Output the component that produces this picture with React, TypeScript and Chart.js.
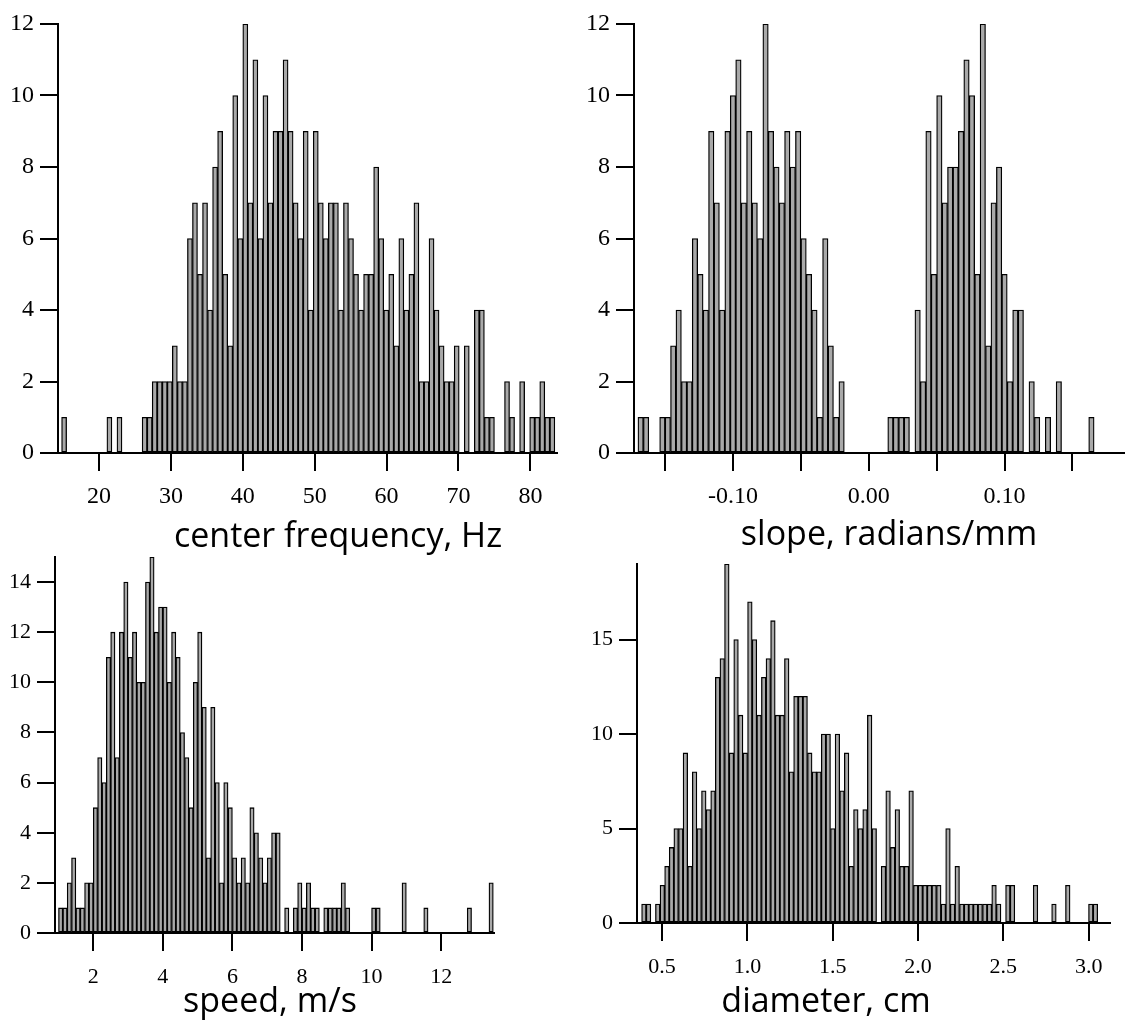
import React, { useEffect, useRef } from "react";
import { Chart, registerables } from "chart.js";

Chart.register(...registerables);

// ---------------- data ----------------
// center frequency histogram (Hz)
const freqStart = 14.8;
const freqWidth = 0.7;
const freqCounts = [
  1, 0, 0, 0, 0, 0, 0, 0, 0, 1,
  0, 1, 0, 0, 0, 0, 1, 1, 2, 2,
  2, 2, 3, 2, 2, 6, 7, 5, 7, 4,
  8, 9, 5, 3, 10, 6, 12, 7, 11, 6,
  10, 7, 9, 9, 11, 9, 7, 6, 9, 4,
  9, 7, 6, 7, 7, 4, 7, 6, 5, 4,
  5, 5, 8, 6, 4, 5, 3, 6, 4, 5,
  7, 2, 2, 6, 4, 3, 2, 2, 3, 0,
  3, 0, 4, 4, 1, 1, 0, 0, 2, 1,
  0, 2, 0, 1, 1, 2, 1, 1,
];

// slope histogram (radians/mm)
const slopeStart = -0.17;
const slopeWidth = 0.004;
const slopeCounts = [
  1, 1, 0, 0, 1, 1, 3, 4, 2, 2,
  6, 5, 4, 9, 7, 4, 9, 10, 11, 7,
  9, 7, 6, 12, 9, 8, 7, 9, 8, 9,
  6, 5, 4, 1, 6, 3, 1, 2, 0, 0,
  0, 0, 0, 0, 0, 0, 1, 1, 1, 1,
  0, 4, 2, 9, 5, 10, 7, 8, 8, 9,
  11, 10, 5, 12, 3, 7, 8, 5, 2, 4,
  4, 0, 2, 1, 0, 1, 0, 2, 0, 0,
  0, 0, 0, 1,
];

// speed histogram (m/s)
const speedStart = 1.0;
const speedWidth = 0.125;
const speedCounts = [
  1, 1, 2, 3, 1, 1, 2, 2, 5, 7,
  6, 11, 12, 7, 12, 14, 11, 12, 10, 10,
  14, 15, 12, 13, 13, 10, 12, 11, 8, 7,
  5, 10, 12, 9, 3, 9, 6, 2, 6, 5,
  3, 2, 3, 2, 5, 4, 3, 2, 3, 4,
  4, 0, 1, 0, 1, 2, 1, 2, 1, 1,
  0, 1, 1, 1, 1, 2, 1, 0, 0, 0,
  0, 0, 1, 1, 0, 0, 0, 0, 0, 2,
  0, 0, 0, 0, 1, 0, 0, 0, 0, 0,
  0, 0, 0, 0, 1, 0, 0, 0, 0, 2,
];

// diameter histogram (cm)
const diamStart = 0.38;
const diamWidth = 0.027;
const diamCounts = [
  1, 1, 0, 1, 2, 3, 4, 5, 5, 9,
  3, 8, 5, 7, 6, 7, 13, 14, 19, 9,
  15, 11, 9, 17, 15, 11, 13, 14, 16, 11,
  11, 14, 8, 12, 12, 12, 9, 8, 8, 10,
  10, 5, 10, 7, 9, 3, 6, 5, 6, 11,
  5, 0, 3, 7, 4, 6, 3, 3, 7, 2,
  2, 2, 2, 2, 2, 1, 5, 1, 3, 1,
  1, 1, 1, 1, 1, 1, 2, 1, 0, 2,
  2, 0, 0, 0, 0, 2, 0, 0, 0, 1,
  0, 0, 2, 0, 0, 0, 0, 1, 1, 0,
];

const axisTitles = ["center frequency, Hz", "slope, radians/mm", "speed, m/s", "diameter, cm"];

// axis ranges and tick steps
const freqAxis = { min: 14.3, max: 83.7, step: 10, yMax: 12, yStep: 2 };
const slopeAxis = { min: -0.1729, max: 0.188, step: 0.05, yMax: 12, yStep: 2 };
const speedAxis = { min: 0.9, max: 13.52, step: 2, yMax: 15, yStep: 2 };
const diamAxis = { min: 0.353, max: 3.125, step: 0.5, yMax: 19, yStep: 5 };

// ---------------- helpers ----------------
function toPoints(start: number, width: number, counts: number[]) {
  return counts.map((c, i) => ({ x: start + width * (i + 0.5), y: c === 0 ? null : c }));
}

const titlePlugin = {
  id: "axisTitle",
  afterDraw(chart: any, _args: any, opts: any) {
    const ctx = chart.ctx;
    ctx.save();
    ctx.font = '34px "Open Sans"';
    ctx.fillStyle = "#000";
    ctx.textAlign = "center";
    ctx.textBaseline = "alphabetic";
    ctx.fillText(opts.text, opts.x, opts.y);
    ctx.restore();
  },
};

type PanelProps = {
  left: number;
  top: number;
  width: number;
  height: number;
  yWidth: number;
  xHeight: number;
  pad: { top: number; right: number; bottom: number };
  points: { x: number; y: number | null }[];
  axis: { min: number; max: number; step: number; yMax: number; yStep: number };
  fmt: (v: number) => string;
  title: string;
  titleX: number;
  titleY: number;
  fontSize: number;
  xPad: number;
};

function Panel(p: PanelProps) {
  const ref = useRef<HTMLCanvasElement | null>(null);
  useEffect(() => {
    if (!ref.current) return;
    const tickFont = { family: "Liberation Serif", size: p.fontSize };
    const chart = new Chart(ref.current, {
      type: "bar",
      data: {
        datasets: [
          {
            data: p.points as any,
            backgroundColor: "#a9a9a9",
            borderColor: "#000",
            borderWidth: 1.3,
            borderSkipped: false,
            categoryPercentage: 1,
            barPercentage: 1,
          },
        ],
      },
      options: {
        animation: false,
        responsive: false,
        maintainAspectRatio: false,
        layout: { padding: { left: 0, top: p.pad.top, right: p.pad.right, bottom: p.pad.bottom } },
        plugins: {
          legend: { display: false },
          tooltip: { enabled: false },
          axisTitle: { text: p.title, x: p.titleX, y: p.titleY },
        } as any,
        scales: {
          x: {
            type: "linear",
            min: p.axis.min,
            max: p.axis.max,
            offset: false,
            grid: {
              display: true,
              offset: false,
              drawOnChartArea: false,
              drawTicks: true,
              tickLength: 18,
              color: "#000",
              lineWidth: 2,
            },
            border: { display: true, color: "#000", width: 2 },
            ticks: {
              stepSize: p.axis.step,
              includeBounds: false,
              autoSkip: false,
              maxRotation: 0,
              minRotation: 0,
              padding: p.xPad,
              color: "#000",
              font: tickFont,
              callback: (v: any) => p.fmt(Number(v)),
            },
            afterFit: (s: any) => {
              s.height = p.xHeight;
            },
          },
          y: {
            type: "linear",
            min: 0,
            max: p.axis.yMax,
            grid: {
              display: true,
              drawOnChartArea: false,
              drawTicks: true,
              tickLength: 18,
              color: "#000",
              lineWidth: 2,
            },
            border: { display: true, color: "#000", width: 2 },
            ticks: {
              stepSize: p.axis.yStep,
              includeBounds: false,
              padding: 6,
              color: "#000",
              font: tickFont,
              callback: (v: any) => String(Math.round(Number(v))),
            },
            afterFit: (s: any) => {
              s.width = p.yWidth;
            },
          },
        },
      } as any,
      plugins: [titlePlugin as any],
    });
    return () => chart.destroy();
  }, []);
  return (
    <canvas
      ref={ref}
      width={p.width}
      height={p.height}
      style={{ position: "absolute", left: p.left, top: p.top, width: p.width, height: p.height }}
    />
  );
}

const intFmt = (v: number) => String(Math.round(v));
const slopeFmt = (v: number) => {
  const r = Math.round(v * 100);
  if (r % 10 !== 0) return "";
  return (r / 100).toFixed(2);
};
const diamFmt = (v: number) => (Math.round(v * 10) / 10).toFixed(1);

export default function App() {
  return (
    <div style={{ position: "absolute", left: 0, top: 0, width: 1126, height: 1022, background: "#fff", overflow: "hidden" }}>
      <Panel
        left={0}
        top={0}
        width={570}
        height={560}
        yWidth={58}
        xHeight={56}
        pad={{ top: 24, right: 13, bottom: 51 }}
        points={toPoints(freqStart, freqWidth, freqCounts)}
        axis={freqAxis}
        fmt={intFmt}
        title={axisTitles[0]}
        titleX={338}
        titleY={547}
        fontSize={24}
        xPad={11}
      />
      <Panel
        left={570}
        top={0}
        width={556}
        height={560}
        yWidth={64}
        xHeight={56}
        pad={{ top: 24, right: 2, bottom: 51 }}
        points={toPoints(slopeStart, slopeWidth, slopeCounts)}
        axis={slopeAxis}
        fmt={slopeFmt}
        title={axisTitles[1]}
        titleX={319}
        titleY={545}
        fontSize={24}
        xPad={11}
      />
      <Panel
        left={0}
        top={530}
        width={570}
        height={492}
        yWidth={55}
        xHeight={56}
        pad={{ top: 27, right: 76, bottom: 33 }}
        points={toPoints(speedStart, speedWidth, speedCounts)}
        axis={speedAxis}
        fmt={intFmt}
        title={axisTitles[2]}
        titleX={270}
        titleY={482}
        fontSize={22}
        xPad={13}
      />
      <Panel
        left={570}
        top={530}
        width={556}
        height={492}
        yWidth={67}
        xHeight={56}
        pad={{ top: 34, right: 16, bottom: 43 }}
        points={toPoints(diamStart, diamWidth, diamCounts)}
        axis={diamAxis}
        fmt={diamFmt}
        title={axisTitles[3]}
        titleX={256}
        titleY={482}
        fontSize={22}
        xPad={13}
      />
    </div>
  );
}
